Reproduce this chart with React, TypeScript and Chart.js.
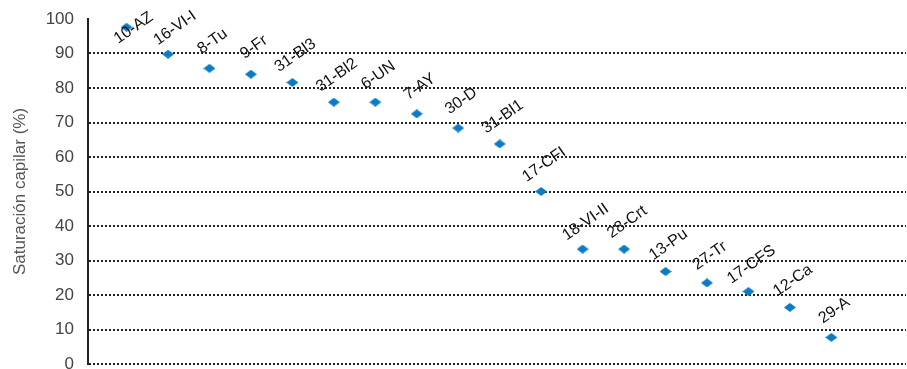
import React, { useEffect, useRef } from "react";
import { Chart, registerables } from "chart.js";

Chart.register(...registerables);

const categories = ["10-AZ","16-VI-I","8-Tu","9-Fr","31-Bl3","31-Bl2","6-UN","7-AY","30-D","31-Bl1","17-CFI","18-VI-II","28-Crt","13-Pu","27-Tr","17-CFS","12-Ca","29-A"];
const saturation = [97.6, 89.8, 85.7, 84.0, 81.6, 75.9, 75.9, 72.5, 68.4, 63.8, 50.0, 33.3, 33.3, 26.8, 23.5, 21.0, 16.4, 7.7];
const yTicks = [0, 10, 20, 30, 40, 50, 60, 70, 80, 90, 100];

function makeDiamond(): HTMLCanvasElement {
  const c = document.createElement("canvas");
  c.width = 12; c.height = 9;
  const g = c.getContext("2d")!;
  g.fillStyle = "#0a7cc5";
  g.beginPath();
  g.moveTo(6, 0); g.lineTo(12, 4.5); g.lineTo(6, 9); g.lineTo(0, 4.5);
  g.closePath(); g.fill();
  return c;
}

const labelPlugin = {
  id: "pointLabels",
  afterDatasetsDraw(chart: any) {
    const ctx = chart.ctx;
    const meta = chart.getDatasetMeta(0);
    ctx.save();
    ctx.font = "16px 'Liberation Sans', Arial, sans-serif";
    ctx.fillStyle = "#111";
    ctx.textAlign = "center";
    ctx.textBaseline = "middle";
    meta.data.forEach((el: any, i: number) => {
      let cx = el.x + 3;
      let cy = el.y - 27;
      if (cy < 28) { cy = 28; cx = el.x + 7; }
      ctx.save();
      ctx.translate(cx, cy);
      ctx.rotate(-35 * Math.PI / 180);
      ctx.fillText(categories[i], 0, 0);
      ctx.restore();
    });
    ctx.restore();
  },
};

export default function App() {
  const ref = useRef<HTMLCanvasElement>(null);
  useEffect(() => {
    document.body.style.margin = "0";
    const diamond = makeDiamond();
    const chart = new Chart(ref.current!, {
      type: "scatter",
      data: {
        datasets: [{
          data: saturation.map((v, i) => ({ x: i + 1, y: v })),
          pointStyle: diamond as any,
          pointRadius: 1,
          pointHoverRadius: 1,
          pointBorderWidth: 0,
          backgroundColor: "#0a7cc5",
          borderColor: "#0a7cc5",
        }],
      },
      options: {
        animation: false,
        responsive: false,
        layout: { padding: { top: 19, bottom: 5, right: 0, left: 0 } },
        plugins: { legend: { display: false }, tooltip: { enabled: false } },
        scales: {
          x: {
            type: "linear",
            display: false,
            min: 0.07,
            max: 19.8,
          },
          y: {
            min: 0,
            max: 100,
            afterBuildTicks: (s: any) => { s.ticks = yTicks.map((v) => ({ value: v })); },
            afterFit: (s: any) => { s.width = 88; s.paddingTop = 0; s.paddingBottom = 0; },
            ticks: {
              padding: 14,
              color: "#444",
              font: { family: "'Liberation Sans', Arial, sans-serif", size: 17 },
            },
            grid: {
              color: (c: any) => (c.tick && c.tick.value === 100 ? "rgba(0,0,0,0)" : "#222"),
              lineWidth: 2,
              drawTicks: false,
            },
            border: { display: true, color: "#222", width: 2, dash: [2, 2] },
            title: {
              display: true,
              text: "Saturación capilar (%)",
              color: "#555",
              font: { family: "'Liberation Sans', Arial, sans-serif", size: 17 },
              padding: { top: 10, bottom: 0 },
            },
          },
        },
      },
      plugins: [labelPlugin],
    });
    (chart.options.scales as any).y.grid.borderDash = [2, 2];
    (chart.options.scales as any).y.border.dash = [2, 2];
    chart.update();
    return () => chart.destroy();
  }, []);
  return <canvas ref={ref} width={907} height={369} style={{ display: "block" }} />;
}
